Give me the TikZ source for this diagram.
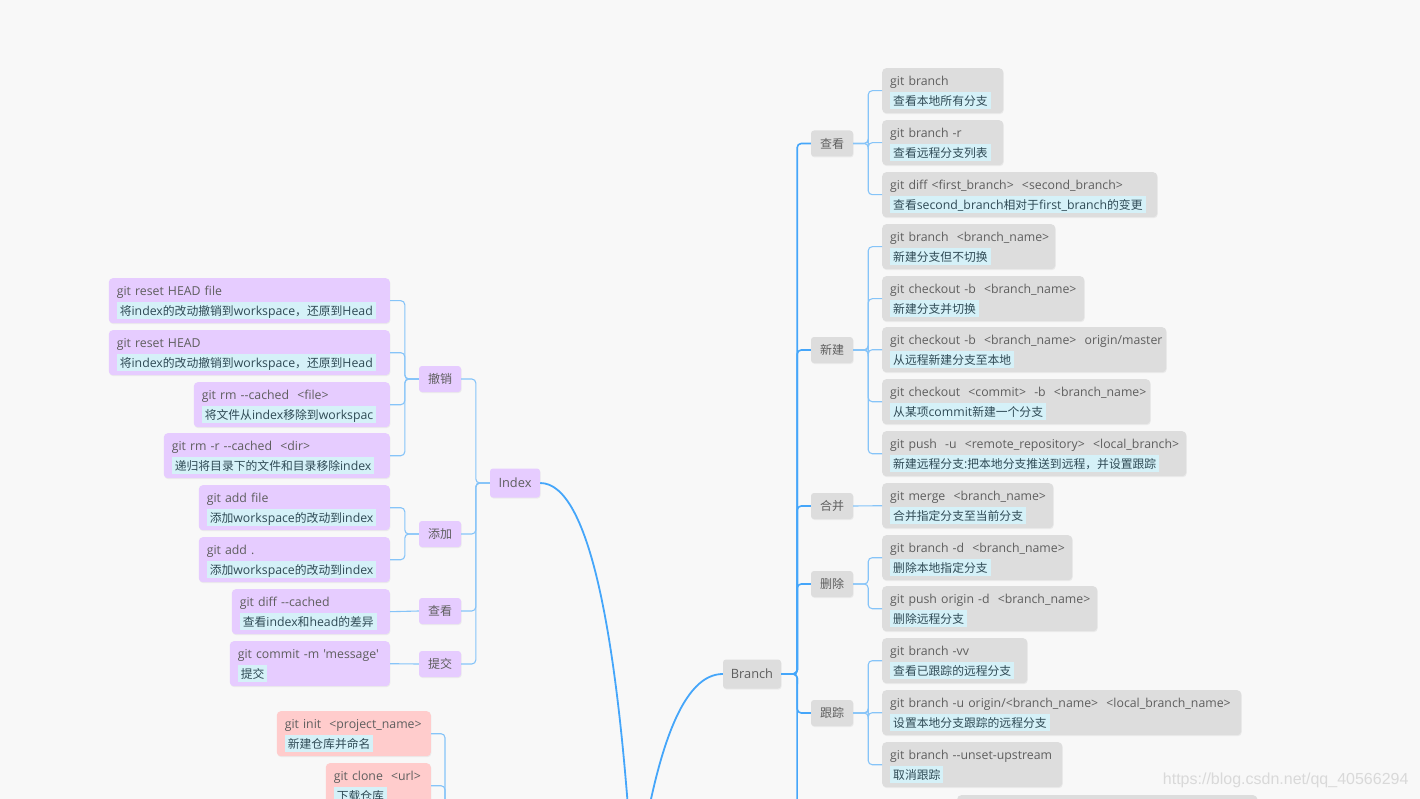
\documentclass[tikz,border=0pt]{standalone}
\usepackage{fontspec}
\newfontfamily\latf{Open Sans}
\newfontfamily\cjkf[Scale=0.96]{Noto Sans CJK SC}
\newfontfamily\wmf{Liberation Sans}
\usetikzlibrary{shadows}
\definecolor{bgc}{HTML}{F8F8F8}
\definecolor{grayc}{HTML}{DDDDDD}
\definecolor{purc}{HTML}{E6CCFF}
\definecolor{pinkc}{HTML}{FFCCCC}
\definecolor{lblc}{HTML}{D5F1F8}
\definecolor{txtc}{HTML}{5E5E5E}
\definecolor{lbltxt}{HTML}{2F4A55}
\definecolor{mainc}{HTML}{45A6FA}
\definecolor{subc}{HTML}{86C4F8}
\definecolor{wmc}{HTML}{D9D9D9}
\newcommand\C[1]{{\cjkf #1}}
\newcommand\st[1]{\mbox{\rule{0pt}{13pt}#1}}
\newcommand\lbl[1]{\mbox{\setlength{\fboxsep}{0pt}\colorbox{lblc}{\hspace{3pt}\rule[-4pt]{0pt}{17pt}\color{lbltxt}#1\hspace{3pt}}}}
\tikzset{
  shad/.style={drop shadow={opacity=0.10, shadow xshift=0.6pt, shadow yshift=-1pt}},
  leaf/.style={shad, rounded corners=4pt, inner xsep=8pt, inner ysep=4pt, align=left,
    text=txtc, font=\latf\fontsize{12.3}{20}\selectfont, minimum height=45pt},
  leafR/.style={leaf, fill=grayc, anchor=north west},
  leafL/.style={leaf, fill=purc, anchor=north east},
  leafP/.style={leaf, fill=pinkc, anchor=north east},
  cat/.style={shad, rounded corners=3pt, minimum width=42pt, minimum height=26pt, inner sep=0pt,
    text=txtc, font=\cjkf\fontsize{12.5}{14}\selectfont},
  topic/.style={shad, rounded corners=3pt, minimum height=29pt, inner sep=0pt,
    text=txtc, font=\latf\fontsize{12.8}{14}\selectfont},
  conn/.style={draw=subc, line width=1.1pt, rounded corners=4pt},
  trunk/.style={draw=mainc, line width=1.6pt, rounded corners=4pt},
  mainline/.style={draw=mainc, line width=1.8pt},
}
\begin{document}
\begin{tikzpicture}[x=1pt,y=-1pt]
\useasboundingbox (0,0) rectangle (1420,799);
\clip (0,0) rectangle (1420,799);
\fill[bgc] (0,0) rectangle (1420,799);

% ---------- Branch side ----------
\node[topic, fill=grayc, minimum width=58pt] (Branch) at (752,674) {Branch};
\node[cat, fill=grayc] (cv) at (832,143.5) {查看};
\node[cat, fill=grayc] (cn) at (832,350) {新建};
\node[cat, fill=grayc] (cm) at (832,506) {合并};
\node[cat, fill=grayc] (cd) at (832,584) {删除};
\node[cat, fill=grayc] (ct) at (832,713) {跟踪};
\coordinate (brmore) at (797,830);

\node[leafR, text width=105pt] (b1) at (882,68) {\st{git branch}\\\lbl{\C{查看本地所有分支}}};
\node[leafR, text width=105pt] (b2) at (882,120) {\st{git branch -r}\\\lbl{\C{查看远程分支列表}}};
\node[leafR, text width=259pt] (b3) at (882,172) {\st{git diff <first\_branch>\ \ <second\_branch>}\\\lbl{\C{查看}second\_branch\C{相对于}first\_branch\C{的变更}}};
\node[leafR, text width=157pt] (b4) at (882,224) {\st{git branch\ \ <branch\_name>}\\\lbl{\C{新建分支但不切换}}};
\node[leafR, text width=186pt] (b5) at (882,276) {\st{git checkout -b\ \ <branch\_name>}\\\lbl{\C{新建分支并切换}}};
\node[leafR, text width=268pt] (b6) at (882,327) {\st{git checkout -b\ \ <branch\_name>\ \ origin/master}\\\lbl{\C{从远程新建分支至本地}}};
\node[leafR, text width=252pt] (b7) at (882,379) {\st{git checkout\ \ <commit>\ \ -b\ \ <branch\_name>}\\\lbl{\C{从某项}commit\C{新建一个分支}}};
\node[leafR, text width=288pt] (b8) at (882,431) {\st{git push\ \ -u\ \ <remote\_repository>\ \ <local\_branch>}\\\lbl{\C{新建远程分支}:\C{把本地分支推送到远程，并设置跟踪}}};
\node[leafR, text width=155pt] (b9) at (882,483) {\st{git merge\ \ <branch\_name>}\\\lbl{\C{合并指定分支至当前分支}}};
\node[leafR, text width=174pt] (b10) at (882,535) {\st{git branch -d\ \ <branch\_name>}\\\lbl{\C{删除本地指定分支}}};
\node[leafR, text width=199pt] (b11) at (882,586) {\st{git push origin -d\ \ <branch\_name>}\\\lbl{\C{删除远程分支}}};
\node[leafR, text width=129pt] (b12) at (882,638) {\st{git branch -vv}\\\lbl{\C{查看已跟踪的远程分支}}};
\node[leafR, text width=343pt] (b13) at (882,690) {\st{git branch -u origin/<branch\_name>\ \ <local\_branch\_name>}\\\lbl{\C{设置本地分支跟踪的远程分支}}};
\node[leafR, text width=164pt] (b14) at (882,742) {\st{git branch --unset-upstream}\\\lbl{\C{取消跟踪}}};
\node[shad, fill=grayc, rounded corners=4pt, anchor=north west, minimum width=300pt, minimum height=45pt, inner sep=0pt] (b15) at (957,795) {};

\draw[trunk] (Branch.east) -- ++(16,0) |- (cv.west);
\draw[trunk] (Branch.east) -- ++(16,0) |- (cn.west);
\draw[trunk] (Branch.east) -- ++(16,0) |- (cm.west);
\draw[trunk] (Branch.east) -- ++(16,0) |- (cd.west);
\draw[trunk] (Branch.east) -- ++(16,0) |- (ct.west);
\draw[trunk] (Branch.east) -- ++(16,0) -- (brmore);

\foreach \k in {b1,b2,b3} \draw[conn] (cv.east) -- ++(15,0) |- (\k.west);
\foreach \k in {b4,b5,b6,b7,b8} \draw[conn] (cn.east) -- ++(15,0) |- (\k.west);
\draw[conn] (cm.east) -- (b9.west);
\foreach \k in {b10,b11} \draw[conn] (cd.east) -- ++(15,0) |- (\k.west);
\foreach \k in {b12,b13,b14} \draw[conn] (ct.east) -- ++(15,0) |- (\k.west);

% ---------- Index side ----------
\node[topic, fill=purc, minimum width=50pt] (Index) at (515,483) {Index};
\node[cat, fill=purc] (ic) at (440,379) {撤销};
\node[cat, fill=purc] (ia) at (440,534) {添加};
\node[cat, fill=purc] (iv) at (440,611) {查看};
\node[cat, fill=purc] (ik) at (440,664) {提交};

\node[leafL, text width=265pt] (l1) at (390,278) {\st{git reset HEAD file}\\\lbl{\C{将}index\C{的改动撤销到}workspace\C{，还原到}Head}};
\node[leafL, text width=265pt] (l2) at (390,330) {\st{git reset HEAD}\\\lbl{\C{将}index\C{的改动撤销到}workspace\C{，还原到}Head}};
\node[leafL, text width=180pt] (l3) at (390,382) {\st{git rm --cached\ \ <file>}\\\lbl{\C{将文件从}index\C{移除到}workspac}};
\node[leafL, text width=210pt] (l4) at (390,433) {\st{git rm -r --cached\ \ <dir>}\\\lbl{\C{递归将目录下的文件和目录移除}index}};
\node[leafL, text width=175pt] (l5) at (390,485) {\st{git add file}\\\lbl{\C{添加}workspace\C{的改动到}index}};
\node[leafL, text width=175pt] (l6) at (390,537) {\st{git add .}\\\lbl{\C{添加}workspace\C{的改动到}index}};
\node[leafL, text width=142pt] (l7) at (390,589) {\st{git diff --cached}\\\lbl{\C{查看}index\C{和}head\C{的差异}}};
\node[leafL, text width=144pt] (l8) at (390,641) {\st{git commit -m 'message'}\\\lbl{\C{提交}}};

\draw[conn] (Index.west) -- ++(-14,0) |- (ic.east);
\draw[conn] (Index.west) -- ++(-14,0) |- (ia.east);
\draw[conn] (Index.west) -- ++(-14,0) |- (iv.east);
\draw[conn] (Index.west) -- ++(-14,0) |- (ik.east);
\foreach \k in {l1,l2,l3,l4} \draw[conn] (ic.west) -- ++(-14,0) |- (\k.east);
\foreach \k in {l5,l6} \draw[conn] (ia.west) -- ++(-14,0) |- (\k.east);
\draw[conn] (iv.west) -- (l7.east);
\draw[conn] (ik.west) -- (l8.east);

% ---------- pink group ----------
\node[leafP, text width=138pt] (p1) at (431,711) {\st{git init\ \ <project\_name>}\\\lbl{\C{新建仓库并命名}}};
\node[leafP, text width=89pt] (p2) at (431,763) {\st{git clone\ \ <url>}\\\lbl{\C{下载仓库}}};
\coordinate (pk) at (445,840);
\draw[conn] (pk) |- (p1.east);
\draw[conn] (pk) |- (p2.east);

% ---------- main curves ----------
\coordinate (root) at (634,900);
\draw[mainline] (Index.east) .. controls (590,483) and (620,640) .. (root);
\draw[mainline] (Branch.west) .. controls (685,674) and (655,740) .. (root);

% watermark
\node[text=wmc, font=\wmf\fontsize{16}{18}\selectfont, anchor=east] (wm) at (1412,780) {https://blog.csdn.net/qq\_40566294};
\end{tikzpicture}
\end{document}
